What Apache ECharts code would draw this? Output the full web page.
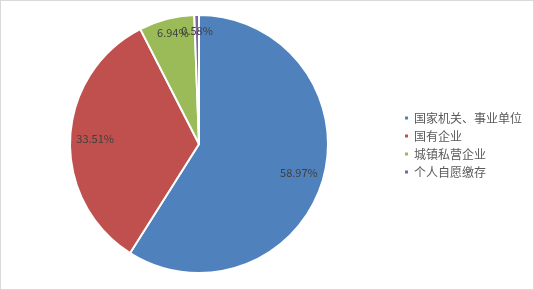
<!DOCTYPE html>
<html><head><meta charset="utf-8">
<script src="https://cdn.jsdelivr.net/npm/echarts@6/dist/echarts.min.js"></script>
<style>html,body{margin:0;padding:0;background:#fff}#c{width:534px;height:290px;box-sizing:border-box;border:1px solid #d9d9d9}</style>
</head><body><div id="c"></div>
<script>
const categories = ['国家机关、事业单位', '国有企业', '城镇私营企业', '个人自愿缴存'];
const values = [58.97, 33.51, 6.94, 0.58];
const colors = ['#4f81bd', '#c0504d', '#9bbb59', '#8064a2'];
const labelOffsets = [[0, 0], [0, 0], [0, -11], [0, -9]];
const data = categories.map((n, i) => ({ name: n, value: values[i] }));
const chart = echarts.init(document.getElementById('c'));
chart.setOption({
  animation: false,
  color: colors,
  legend: {
    orient: 'vertical', left: 397, top: 106,
    itemWidth: 5, itemHeight: 5, itemGap: 6, icon: 'rect',
    textStyle: { fontFamily: 'Noto Sans CJK SC', fontSize: 12, color: '#595959' },
    data: categories
  },
  series: [{
    type: 'pie', center: [198, 143], radius: [0, 129], startAngle: 90, clockwise: true,
    label: { show: false }, labelLine: { show: false },
    itemStyle: { borderColor: '#fff', borderWidth: 2 },
    emphasis: { disabled: true },
    data: data
  }, {
    type: 'pie', center: [198, 143], radius: [73, 129], startAngle: 90, clockwise: true,
    silent: true, legendHoverLink: false, avoidLabelOverlap: false,
    itemStyle: { color: 'rgba(0,0,0,0)' },
    label: { show: true, position: 'inside', formatter: p => p.value.toFixed(2) + '%', fontFamily: 'Noto Sans CJK SC', fontSize: 11, color: '#404040' },
    labelLine: { show: false },
    labelLayout: { hideOverlap: false },
    emphasis: { disabled: true },
    data: data.map((d, i) => ({ name: d.name + ' ', value: d.value, label: { offset: labelOffsets[i] } }))
  }]
});
</script></body></html>
